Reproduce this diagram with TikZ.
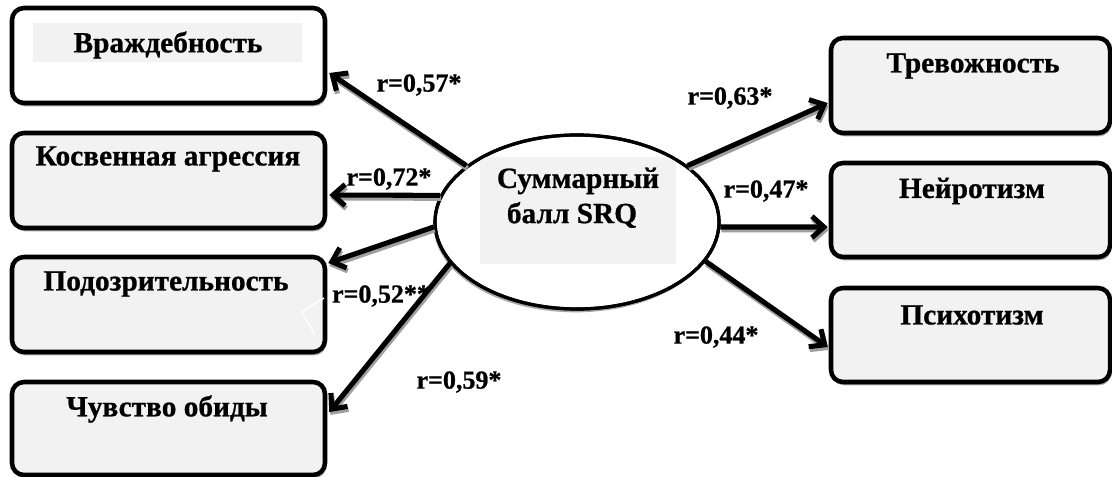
\documentclass[tikz,border=0pt]{standalone}
\usepackage{fontspec}
\setmainfont{Liberation Serif}
\newfontfamily\heavyserif{Liberation Serif Bold}[FakeBold=0.8]
\usetikzlibrary{shapes.geometric,shadows,arrows.meta,calc,fit}

\definecolor{boxgray}{HTML}{F2F2F2}
\tikzset{
  panel/.style={draw=black, line width=3.4pt, rounded corners=9pt, inner sep=0pt,
    fill=boxgray, drop shadow={shadow xshift=1pt, shadow yshift=-2.5pt,
    fill=gray!80, opacity=0.85}},
  boxtext/.style={font=\heavyserif\fontsize{22}{25}\selectfont, inner sep=0pt, anchor=center},
  rlabel/.style={font=\heavyserif\fontsize{19.5}{22}\selectfont, inner sep=0pt, anchor=center},
  link/.style={line width=3.8pt, -{Straight Barb[length=9pt,width=16pt]},
    preaction={draw=gray!75, line width=3.8pt, -{Straight Barb[length=9pt,width=16pt]},
      transform canvas={xshift=0.8pt, yshift=-2.2pt}}},
}

\begin{document}
\begin{tikzpicture}[x=0.75pt, y=-0.75pt]
\useasboundingbox (0,0) rectangle (1112,477);

% left column
\node[panel, fill=white, fit={(12,8) (325,103)}] (vr) {};
\fill[boxgray] (33,23) rectangle (302,62);
\node[panel, fit={(12,133) (325,228)}] (ko) {};
\node[panel, fit={(12,257) (325,352)}] (po) {};
\node[panel, fit={(12,382) (325,475)}] (ch) {};

% right column
\node[panel, fit={(831,38) (1110,133)}] (tr) {};
\node[panel, fit={(831,163) (1110,257)}] (ne) {};
\node[panel, fit={(831,288) (1110,382)}] (ps) {};

% white stroke on the third box
\draw[white, line width=1pt] (324,298) -- (302,312) -- (315,335);

\node[boxtext] (tvr) at (168,45) {Враждебность};
\node[boxtext] (tko) at (168,159) {Косвенная агрессия};
\node[boxtext] (tpo) at (166,284) {Подозрительность};
\node[boxtext] (tch) at (167,409) {Чувство обиды};
\node[boxtext] (ttr) at (973,66) {Тревожность};
\node[boxtext] (tne) at (972,191) {Нейротизм};
\node[boxtext] (tps) at (972,315) {Психотизм};

% central ellipse
\node[ellipse, draw=black, line width=2.4pt, fill=white, inner sep=0pt,
  minimum width=213pt, minimum height=130.5pt,
  drop shadow={shadow xshift=-1pt, shadow yshift=-2.5pt, fill=gray!80, opacity=0.85}]
  (sum) at (577,222) {};
\fill[boxgray] (480,157) rectangle (676,264);
\draw[line width=2.4pt] (sum.center) ellipse [x radius=142, y radius=87];
\node[boxtext] (ts1) at (578,181) {Суммарный};
\node[boxtext] (ts2) at (572,215) {балл SRQ};

% connectors
\draw[link] (sum.153) -- ($(vr.east)+(2,17.5)$);
\draw[link] (sum.169) -- ($(ko.east)+(2,14.5)$);
\draw[link] (sum.182) -- ($(po.east)+(1,-41.5)$);
\draw[link] (sum.198) -- ($(ch.east)+(2,-16.5)$);
\draw[link] (sum.27.6) -- ($(tr.west)+(-1,17.5)$);
\draw[link] (sum.-2) -- ($(ne.west)+(-1,17)$);
\draw[link] (sum.-17) -- ($(ps.west)+(-1,12)$);

% coefficients
\node[rlabel] (l1) at (419,85) {r=0,57*};
\node[rlabel] (l2) at (389,179) {r=0,72*};
\node[rlabel] (l3) at (381,296) {r=0,52**};
\node[rlabel] (l4) at (459,382) {r=0,59*};
\node[rlabel] (l5) at (730,98) {r=0,63*};
\node[rlabel] (l6) at (766,191) {r=0,47*};
\node[rlabel] (l7) at (716,337) {r=0,44*};
\end{tikzpicture}
\end{document}
